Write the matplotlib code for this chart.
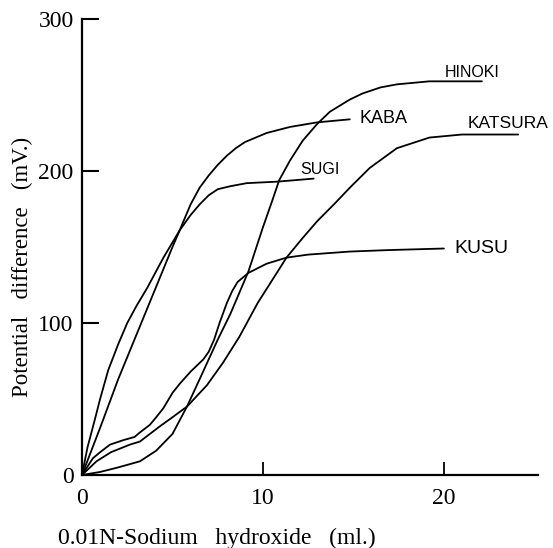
import matplotlib
matplotlib.use("Agg")
import matplotlib.pyplot as plt

# ---- 数据----
sugi_x = [0, 0.3, 0.7, 1.0, 1.45, 2.0, 2.5, 3.0, 3.6, 4.5, 5.4, 6.0, 6.5, 7.0, 7.5, 8.2, 9.1, 10.8, 12.8]
sugi_y = [0, 18, 36, 50, 69, 86, 100, 111, 123, 143, 161, 171, 178, 184, 188, 190, 192, 193, 195]

kaba_x = [0, 1, 2, 3, 4, 5, 5.4, 6, 6.5, 7, 7.5, 8, 8.5, 9, 10.2, 11.5, 13, 14.8]
kaba_y = [0, 31, 63, 92, 121, 150, 161, 178, 189, 197, 204, 210, 215, 219, 225, 229, 232, 234]

hinoki_x = [0, 1, 2, 3.2, 4.1, 5.0, 5.8, 6.5, 7.0, 7.5, 8.2, 9.2, 10.0, 10.5, 10.9, 11.5,
            12.2, 13.0, 13.7, 14.8, 15.5, 16.5, 17.4, 19.2, 20.5, 22.1]
hinoki_y = [0, 2, 5, 9, 16, 27, 45, 63, 76, 89, 106, 134, 163, 180, 194, 207,
            220, 231, 239, 247, 251, 255, 257, 259, 259, 259]

katsura_x = [0, 0.8, 1.6, 2.65, 3.2, 4.3, 5.0, 5.8, 6.9, 7.8, 8.7, 9.2, 9.7, 10.5, 11.3,
             12.2, 13.0, 14.0, 14.8, 15.9, 17.4, 19.2, 21.0, 24.1]
katsura_y = [0, 9, 15, 20, 22, 32, 38, 45, 59, 74, 91, 102, 113, 128, 143,
             156, 167, 179, 189, 202, 215, 222, 224, 224]

kusu_x = [0, 0.6, 1.0, 1.55, 2.3, 2.9, 3.2, 3.75, 4.1, 4.5, 5.0, 5.4, 6.0, 6.7, 7.0, 7.3,
          7.6, 8.0, 8.3, 8.6, 9.2, 10.2, 11.3, 12.5, 14.8, 17.0, 20.0]
kusu_y = [0, 11, 15, 20, 23, 25, 28, 33, 38, 44, 54, 60, 68, 76, 81, 89,
          100, 113, 121, 127, 133, 139, 143, 145, 147, 148, 149]

x_ticks = [0, 10, 20]
y_ticks = [0, 100, 200, 300]

serif = ["Liberation Serif", "DejaVu Serif"]
hand = ["Liberation Sans", "DejaVu Sans"]

fig = plt.figure(figsize=(5.53, 5.48), dpi=100)
ax = fig.add_axes([82 / 553, 1 - 475 / 548, 456 / 553, 456 / 548])

for xs, ys in [(sugi_x, sugi_y), (kaba_x, kaba_y), (hinoki_x, hinoki_y),
               (katsura_x, katsura_y), (kusu_x, kusu_y)]:
    ax.plot(xs, ys, color="black", linewidth=1.3, solid_capstyle="round",
            solid_joinstyle="round")

# 曲线名称
labels = [
    ("HINOKI", 20.05, 264.8, 11.5),
    ("KABA", 15.36, 234.5, 13),
    ("KATSURA", 21.3, 231.0, 12.5),
    ("SUGI", 12.04, 200.7, 11.5),
    ("KUSU", 20.6, 149.0, 14),
]
for txt, lx, ly, fs in labels:
    ax.text(lx, ly, txt, family=hand, fontsize=fs, ha="left", va="center",
            color="black", clip_on=False)

ax.set_xlim(0, 25.2)
ax.set_ylim(0, 300)
ax.spines["top"].set_visible(False)
ax.spines["right"].set_visible(False)
ax.spines["left"].set_linewidth(1.6)
ax.spines["bottom"].set_linewidth(1.6)

ax.set_xticks(x_ticks)
ax.set_xticklabels([str(v) for v in x_ticks])
ax.set_yticks(y_ticks)
ax.set_yticklabels([str(v) for v in y_ticks])
ax.tick_params(axis="y", direction="in", length=12, width=1.5, pad=6, labelsize=17)
ax.tick_params(axis="x", direction="in", length=9.5, width=1.3, pad=9, labelsize=17)
for lab in ax.get_xticklabels() + ax.get_yticklabels():
    lab.set_family(serif)
# 原点处不画刻度线
ax.xaxis.get_major_ticks()[0].tick1line.set_visible(False)
ax.yaxis.get_major_ticks()[0].tick1line.set_visible(False)

fig.text(217 / 553, 1 - 538 / 548, "0.01N-Sodium   hydroxide   (ml.)",
         family=serif, fontsize=17, ha="center", va="center")
fig.text(22 / 553, 1 - 267 / 548, "Potential   difference   (mV.)",
         family=serif, fontsize=16.5, ha="center", va="center", rotation=90)

fig.savefig("out.png", dpi=100)
